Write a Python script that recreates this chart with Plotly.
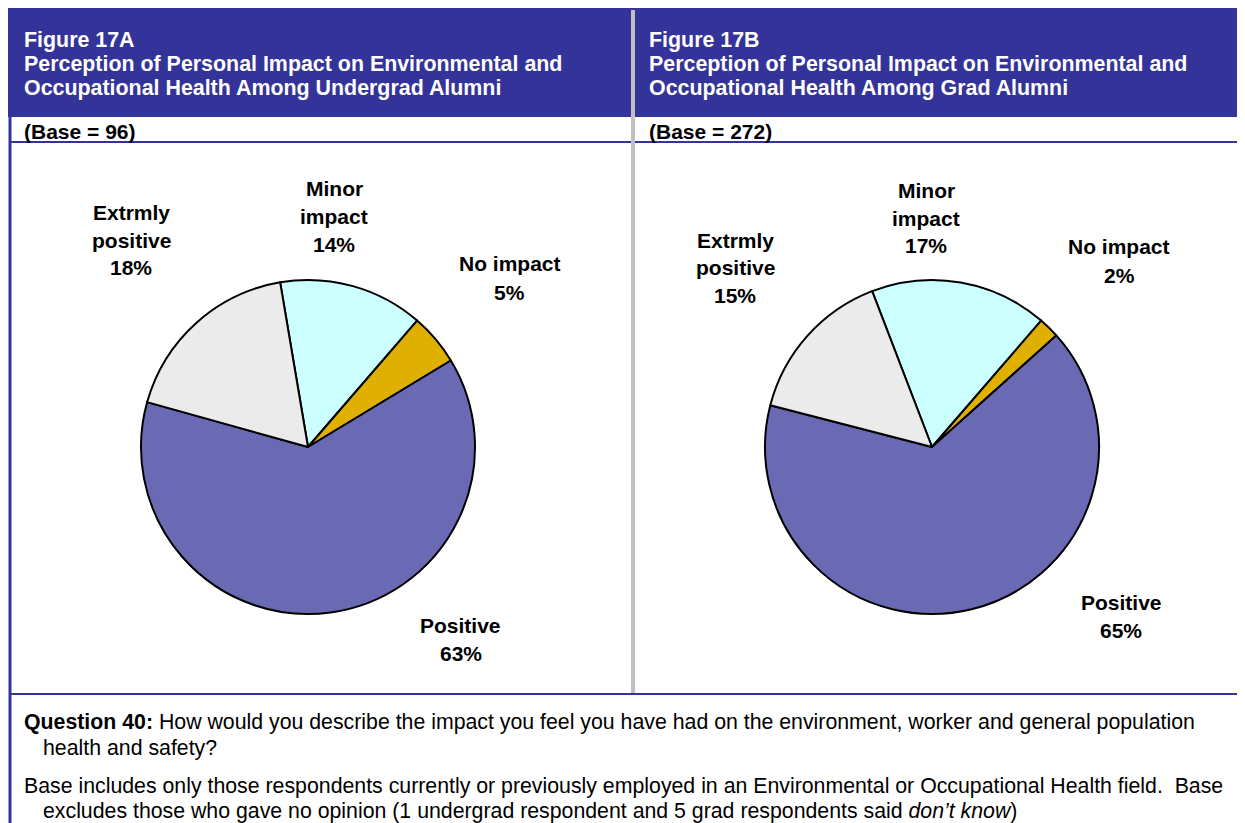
import plotly.graph_objects as go

# The page body has an 8px margin, so the figure is placed at (8, 8) in the window.
OX, OY = 8, 8
W, H = 1245 - OX, 823 - OY

categories = ["Minor impact", "No impact", "Positive", "Extrmly positive"]
undergrad_values = [14, 5, 63, 18]
grad_values = [17, 2, 65, 15]
slice_colors = ["#CCFFFF", "#E0B000", "#6A6AB4", "#EBEBEB"]

label_lines_a = [["Minor", "impact", "14%"], ["No impact", "5%"], ["Positive", "63%"],
                 ["Extrmly", "positive", "18%"]]
label_lines_b = [["Minor", "impact", "17%"], ["No impact", "2%"], ["Positive", "65%"],
                 ["Extrmly", "positive", "15%"]]

titles = [["Figure 17A", "Perception of Personal Impact on Environmental and",
           "Occupational Health Among Undergrad Alumni"],
          ["Figure 17B", "Perception of Personal Impact on Environmental and",
           "Occupational Health Among Grad Alumni"]]
bases = ["(Base = 96)", "(Base = 272)"]

FONT = "Arial, 'Liberation Sans', sans-serif"
BLUE = "#333399"


def px(x):
    return (x - OX) / W


def py(y):
    return 1 - (y - OY) / H


fig = go.Figure()

# pies
pie_specs = [(undergrad_values, 308, 447, -9.6), (grad_values, 932, 447, -21)]
R = 167
for vals, cx, cy, rot in pie_specs:
    fig.add_trace(go.Pie(
        labels=categories, values=vals, sort=False, direction="clockwise",
        rotation=rot, textinfo="none", hoverinfo="label+percent",
        marker=dict(colors=slice_colors, line=dict(color="black", width=2)),
        domain=dict(x=[px(cx - R), px(cx + R)], y=[py(cy + R), py(cy - R)]),
        showlegend=False,
    ))

annotations = []
shapes = []

# header band
shapes.append(dict(type="rect", xref="paper", yref="paper", x0=px(8), x1=1, y0=py(117), y1=py(7),
                   fillcolor=BLUE, line=dict(width=0), layer="below"))
# left border
shapes.append(dict(type="line", xref="paper", yref="paper", x0=px(10), x1=px(10), y0=0, y1=py(7),
                   line=dict(color=BLUE, width=3)))
# horizontal rules
for yy in (142, 694):
    shapes.append(dict(type="line", xref="paper", yref="paper", x0=px(10), x1=1, y0=py(yy), y1=py(yy),
                       line=dict(color=BLUE, width=2)))
# gray divider
shapes.append(dict(type="line", xref="paper", yref="paper", x0=px(633), x1=px(633), y0=py(693), y1=py(10),
                   line=dict(color="#C0C0C0", width=4)))

for i, x0 in enumerate((22, 647)):
    for k, t in enumerate(titles[i]):
        annotations.append(dict(x=px(x0), y=py(40 + 24 * k), xref="paper", yref="paper",
                                text="<b>" + t + "</b>", showarrow=False, xanchor="left",
                                yanchor="middle", font=dict(family=FONT, size=21.4, color="white")))
    annotations.append(dict(x=px(x0), y=py(131), xref="paper", yref="paper", text="<b>" + bases[i] + "</b>",
                            showarrow=False, xanchor="left", yanchor="middle",
                            font=dict(family=FONT, size=21, color="black")))

# pie labels (center x, first line y)
label_pos_a = [(334, 188), (510, 264), (461, 625), (131, 212)]
label_pos_b = [(926, 190), (1119, 247), (1121, 602), (735, 240)]
for lines_set, pos_set in ((label_lines_a, label_pos_a), (label_lines_b, label_pos_b)):
    for lines, (lx, ly) in zip(lines_set, pos_set):
        for k, t in enumerate(lines):
            annotations.append(dict(x=px(lx), y=py(ly + 28 * k), xref="paper", yref="paper",
                                    text="<b>" + t + "</b>", showarrow=False, xanchor="center",
                                    yanchor="middle", font=dict(family=FONT, size=21, color="black")))

foot = [
    (22, 722, "<b>Question 40:</b> How would you describe the impact you feel you have had on the environment, worker and general population"),
    (41, 748, "health and safety?"),
    (22, 786, "Base includes only those respondents currently or previously employed in an Environmental or Occupational Health field.  Base"),
    (41, 811, "excludes those who gave no opinion (1 undergrad respondent and 5 grad respondents said <i>don’t know</i>)"),
]
for fx, fy, t in foot:
    annotations.append(dict(x=px(fx), y=py(fy), xref="paper", yref="paper", text=t, showarrow=False,
                            xanchor="left", yanchor="middle", font=dict(family=FONT, size=21.3, color="black")))

fig.update_layout(
    width=W, height=H, margin=dict(l=0, r=0, t=0, b=0),
    paper_bgcolor="white", plot_bgcolor="white",
    shapes=shapes, annotations=annotations,
)

fig.write_html("out.html")
